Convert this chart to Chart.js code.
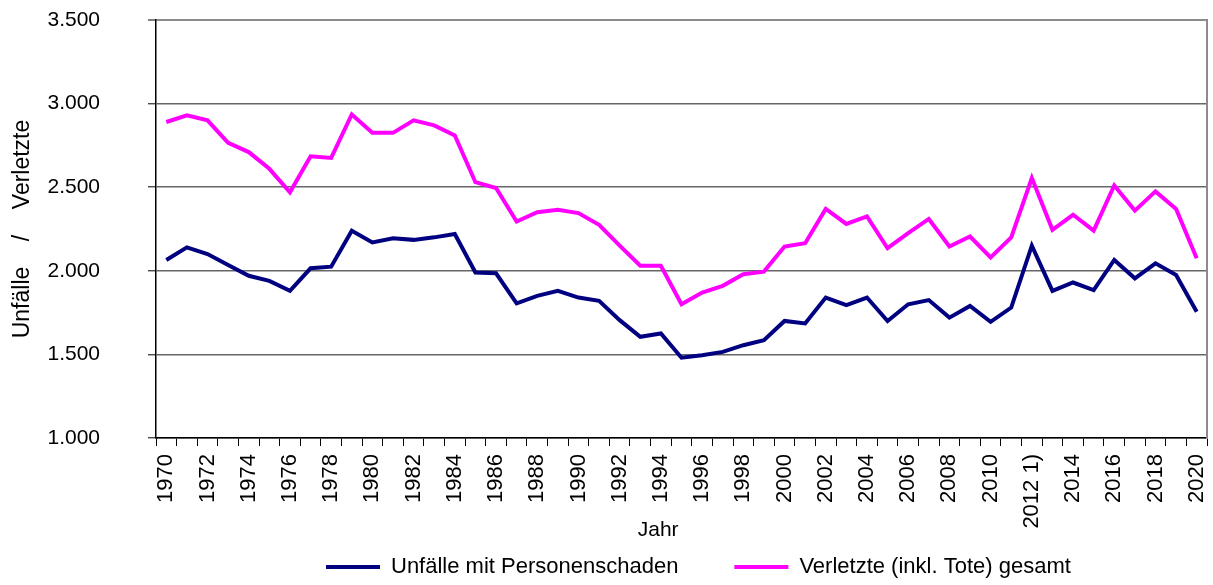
<!DOCTYPE html>
<html lang="de">
<head>
<meta charset="utf-8">
<title>Unfälle mit Personenschaden und Verletzte 1970–2020</title>
<script src="https://cdn.jsdelivr.net/npm/chart.js@4.4.1/dist/chart.umd.min.js"></script>
<style>
  html, body { margin: 0; padding: 0; background: #fff; }
  #wrap { width: 1213px; height: 585px; }
</style>
</head>
<body>
<div id="wrap"><canvas id="chart" width="1213" height="585"></canvas></div>
<script>
// Jahre (2012 mit Fußnote)
const years = [
    '1970', '1971', '1972', '1973', '1974', '1975', '1976', '1977', '1978', '1979',
    '1980', '1981', '1982', '1983', '1984', '1985', '1986', '1987', '1988', '1989',
    '1990', '1991', '1992', '1993', '1994', '1995', '1996', '1997', '1998', '1999',
    '2000', '2001', '2002', '2003', '2004', '2005', '2006', '2007', '2008', '2009',
    '2010', '2011', '2012 1)', '2013', '2014', '2015', '2016', '2017', '2018', '2019',
    '2020'
];

// Unfälle mit Personenschaden
const accidents = [
    2065, 2140, 2100, 2035, 1970, 1940, 1880, 2015, 2025, 2240,
    2170, 2195, 2185, 2200, 2220, 1990, 1985, 1805, 1850, 1880,
    1840, 1820, 1705, 1605, 1625, 1480, 1495, 1515, 1555, 1585,
    1700, 1685, 1840, 1795, 1840, 1700, 1800, 1825, 1720, 1790,
    1695, 1780, 2150, 1880, 1930, 1885, 2065, 1955, 2045, 1975,
    1755
];

// Verletzte (inkl. Tote) gesamt
const injured = [
    2890, 2930, 2900, 2765, 2710, 2610, 2470, 2685, 2675, 2935,
    2825, 2825, 2900, 2870, 2810, 2530, 2495, 2295, 2350, 2365,
    2345, 2275, 2150, 2030, 2030, 1800, 1870, 1910, 1980, 1995,
    2145, 2165, 2370, 2280, 2325, 2135, 2225, 2310, 2145, 2205,
    2080, 2200, 2555, 2245, 2335, 2240, 2510, 2360, 2475, 2370,
    2075
];

const yMin = 1000;
const yMax = 3500;
const yStep = 500;

const FONT = '"Liberation Sans", Arial, sans-serif';
Chart.defaults.font.family = FONT;
Chart.defaults.color = '#000';

// Zahlen mit Punkt als Tausendertrennzeichen
function formatDe(v) {
    return String(v).replace(/\B(?=(\d{3})+(?!\d))/g, '.');
}

// Legende an die Stelle des Originals schieben
const legendPlacement = {
    id: 'legendPlacement',
    afterLayout(chart) {
        const lg = chart.legend;
        if (!lg || !lg.lineWidths) return;
        const pad = lg.options.labels.padding;
        const start = (lg.left + pad + lg.right - lg.lineWidths[0]) / 2;
        const dx = 326 - start;
        lg.left += dx;
        lg.right += dx;
        lg.top = 567 - pad - 11;
        lg.bottom = 585;
    }
};

new Chart(document.getElementById('chart'), {
    type: 'line',
    data: {
        labels: years,
        datasets: [{
            label: 'Unfälle mit Personenschaden',
            data: accidents,
            borderColor: '#000080',
            backgroundColor: '#000080',
            borderWidth: 4,
            pointRadius: 0,
            tension: 0,
            yAxisID: 'y'
        }, {
            label: 'Verletzte (inkl. Tote) gesamt',
            data: injured,
            borderColor: '#FF00FF',
            backgroundColor: '#FF00FF',
            borderWidth: 4,
            pointRadius: 0,
            tension: 0,
            yAxisID: 'y'
        }]
    },
    options: {
        responsive: false,
        animation: false,
        devicePixelRatio: 1,
        layout: { padding: { top: 20, left: 0, right: 0, bottom: 0 } },
        plugins: {
            tooltip: { enabled: false },
            legend: {
                position: 'bottom',
                maxHeight: 42,
                labels: {
                    usePointStyle: true,
                    pointStyle: 'line',
                    pointStyleWidth: 54,
                    padding: 56,
                    color: '#000',
                    font: { size: 22 }
                }
            }
        },
        scales: {
            x: {
                type: 'category',
                offset: true,
                grid: {
                    offset: true,
                    drawOnChartArea: false,
                    tickLength: 8,
                    color: '#000',
                    lineWidth: 1
                },
                border: { color: '#000', width: 1.5 },
                ticks: {
                    autoSkip: false,
                    maxRotation: 90,
                    minRotation: 90,
                    padding: 8,
                    font: { size: 22 },
                    callback: (v, i) => (i % 2 === 0 ? years[i] : '')
                },
                title: {
                    display: true,
                    text: 'Jahr        ',
                    font: { size: 21 },
                    padding: { top: 0, bottom: 0 }
                },
                afterFit: (s) => {
                    s.height = 105;
                    s.paddingLeft = 0;
                    s.paddingRight = 0;
                }
            },
            y: {
                position: 'left',
                min: yMin,
                max: yMax,
                ticks: {
                    stepSize: yStep,
                    padding: 48,
                    font: { size: 21 },
                    callback: (v) => formatDe(v)
                },
                grid: {
                    color: (c) => (c.tick && c.tick.value === yMax ? '#8c8c8c' : '#666'),
                    lineWidth: (c) => (c.tick && c.tick.value === yMax ? 2 : 1.6),
                    tickColor: '#000',
                    tickWidth: 1,
                    tickLength: 8
                },
                border: { color: '#000', width: 1.5 },
                title: {
                    display: true,
                    text: 'Unfälle    /    Verletzte',
                    font: { size: 23 },
                    padding: { top: 9, bottom: 0 }
                },
                afterFit: (s) => {
                    s.width = 156;
                    s.paddingTop = 0;
                    s.paddingBottom = 0;
                }
            },
            yRight: {
                position: 'right',
                min: yMin,
                max: yMax,
                ticks: { display: false },
                grid: { drawOnChartArea: false, drawTicks: false },
                border: { color: '#8c8c8c', width: 2 },
                afterFit: (s) => {
                    s.width = 6;
                    s.paddingTop = 0;
                    s.paddingBottom = 0;
                }
            }
        }
    },
    plugins: [legendPlacement]
});
</script>
</body>
</html>
